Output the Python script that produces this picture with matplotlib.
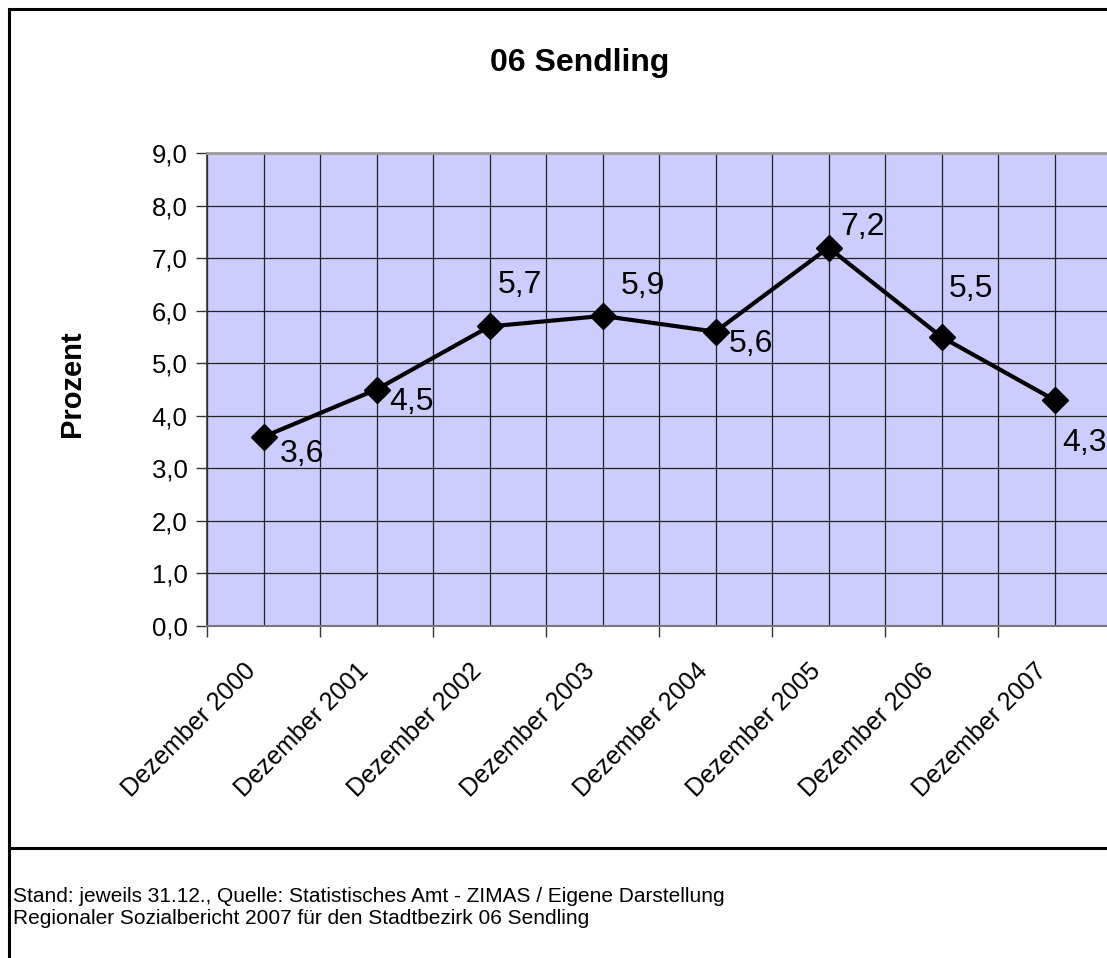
import numpy as np
import matplotlib
matplotlib.use('Agg')
import matplotlib.pyplot as plt
from matplotlib.lines import Line2D
import matplotlib.transforms as mtransforms

plt.rcParams['font.family'] = ['Liberation Sans', 'DejaVu Sans']

# Daten
kategorien = ['Dezember 2000', 'Dezember 2001', 'Dezember 2002', 'Dezember 2003',
              'Dezember 2004', 'Dezember 2005', 'Dezember 2006', 'Dezember 2007']
werte = [3.6, 4.5, 5.7, 5.9, 5.6, 7.2, 5.5, 4.3]
y_ticks = [0, 1, 2, 3, 4, 5, 6, 7, 8, 9]

# Lage der Beschriftungen (Pixel: rechts, unten)
label_offsets = [(16, 17), (13, 12), (8, -41), (18, -30), (13, 12), (12, -21), (7, -48), (8, 43)]

W, H = 1107, 958
fig = plt.figure(figsize=(W / 100, H / 100), dpi=100)
ax = fig.add_axes([207 / W, (H - 626) / H, 904 / W, 473 / H])
ax.set_facecolor('#CCCCFF')

x = np.arange(len(werte))
ax.plot(x, werte, color='black', lw=3, marker='D', ms=13.5, zorder=5, clip_on=False)

for xi, v, (dx, dy) in zip(x, werte, label_offsets):
    ax.annotate(('%.1f' % v).replace('.', ','), (xi, v), xytext=(dx * 0.72, -dy * 0.72),
                textcoords='offset points', ha='left', va='center', fontsize=23,
                annotation_clip=False, zorder=6)

ax.set_xlim(-0.5, len(werte) - 0.5)
ax.set_ylim(0, 9)
ax.set_yticks(y_ticks)
ax.set_yticklabels([('%.1f' % t).replace('.', ',') for t in y_ticks], fontsize=18.5)
ax.set_xticks(x)
ax.set_xticks(np.arange(-0.5, len(werte), 1.0), minor=True)
ax.tick_params(axis='x', which='major', length=0, pad=30)
ax.tick_params(axis='x', which='minor', length=8, color='#333333', width=1)
ax.tick_params(axis='y', length=8, color='#333333', width=1, pad=6)
ax.set_xticklabels(kategorien, rotation=45, ha='right', va='center',
                   rotation_mode='anchor', fontsize=18)
off = mtransforms.ScaledTranslation(-12 / 100, 0, fig.dpi_scale_trans)
for lab in ax.get_xticklabels():
    lab.set_transform(lab.get_transform() + off)

ax.grid(which='both', axis='x', color='#222222', lw=0.9)
ax.grid(which='major', axis='y', color='#222222', lw=0.9)
ax.set_axisbelow(True)

ax.spines['left'].set_color('#333333')
ax.spines['left'].set_linewidth(1.2)
ax.spines['bottom'].set_color('#777777')
ax.spines['bottom'].set_linewidth(1.5)
ax.spines['top'].set_color('#999999')
ax.spines['top'].set_linewidth(2)
ax.spines['right'].set_visible(False)

fig.text(72 / W, 1 - 384 / H, 'Prozent', rotation=90, ha='center', va='center',
         fontsize=21, fontweight='bold')

fig.text(580 / W, 1 - 63 / H, '06 Sendling', ha='center', va='center',
         fontsize=23, fontweight='bold')

# Rahmen
fig.add_artist(Line2D([9 / W, 9 / W], [0, 1 - 9 / H], color='black', lw=2.2))
fig.add_artist(Line2D([9 / W, 1], [1 - 9 / H, 1 - 9 / H], color='black', lw=2.2))
fig.add_artist(Line2D([9 / W, 1], [1 - 848 / H, 1 - 848 / H], color='black', lw=2.2))

fig.text(13 / W, 1 - 897 / H, 'Stand: jeweils 31.12., Quelle: Statistisches Amt - ZIMAS / Eigene Darstellung',
         ha='left', va='center', fontsize=15)
fig.text(13 / W, 1 - 919 / H, 'Regionaler Sozialbericht 2007 für den Stadtbezirk 06 Sendling',
         ha='left', va='center', fontsize=15)

fig.savefig('out.png', dpi=100)
